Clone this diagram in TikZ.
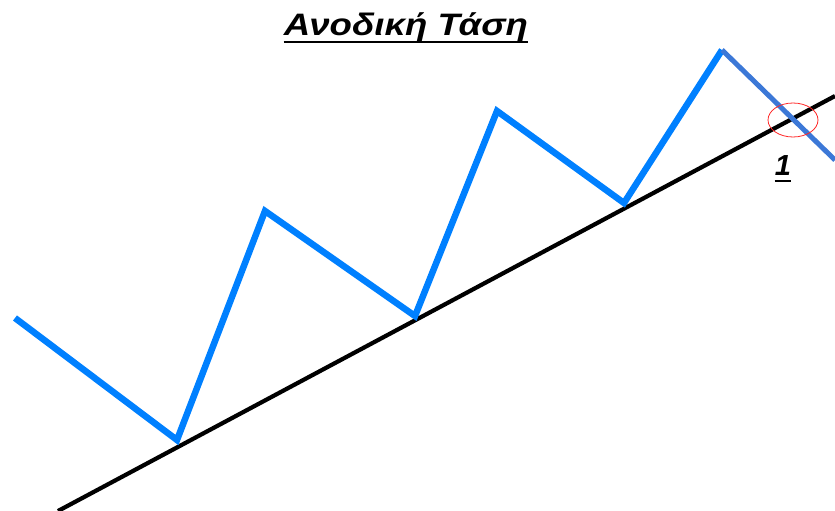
\documentclass[tikz,border=0pt]{standalone}
\usepackage{fontspec}
\usetikzlibrary{shapes.geometric}
\setmainfont{Liberation Sans}
\definecolor{trendblue}{RGB}{0,128,255}
\definecolor{breakblue}{RGB}{60,120,215}
\begin{document}
\begin{tikzpicture}[x=1pt, y=-1pt,
	wave/.style={trendblue, line width=6.5pt, line join=miter},
	support/.style={black, line width=4.2pt},
	mark label/.style={font=\bfseries\itshape\fontsize{29}{29}\selectfont, inner sep=0pt}]
	\useasboundingbox (0,0) rectangle (835,511);

	%Titel
	\node[font=\bfseries\itshape\fontsize{31}{31}\selectfont, inner sep=0pt, xscale=1.18] (title) at (406,27) {Ανοδική Τάση};
	\draw[line width=2.6pt] ([yshift=0pt]title.south west) -- ([yshift=0pt]title.south east);

	%Spitzen und Taeler
	\coordinate (p0) at (15,318);
	\coordinate (p1) at (177,440);
	\coordinate (p2) at (265,211);
	\coordinate (p3) at (415,316);
	\coordinate (p4) at (497,111);
	\coordinate (p5) at (624,203);
	\coordinate (p6) at (722,50);
	\coordinate (p7) at (835,160);

	%Trendlinie
	\coordinate (s0) at (58,511);
	\coordinate (s1) at (835,96);
	\draw[support] (s0) -- (s1);

	%Zickzack
	\draw[wave] (p0) -- (p1) -- (p2) -- (p3) -- (p4) -- (p5) -- (p6);
	\draw[breakblue, line width=5pt] (p6) -- (p7);

	%Bruchstelle
	\node[draw=red!85, line width=0.8pt, ellipse, inner sep=0pt, minimum width=50pt, minimum height=34pt] (brk) at (793,120) {};
	\node[mark label] (one) at (783,166) {1};
	\draw[line width=2.4pt] ([yshift=-5pt]one.south west) -- ([yshift=-5pt]one.south east);
\end{tikzpicture}
\end{document}
